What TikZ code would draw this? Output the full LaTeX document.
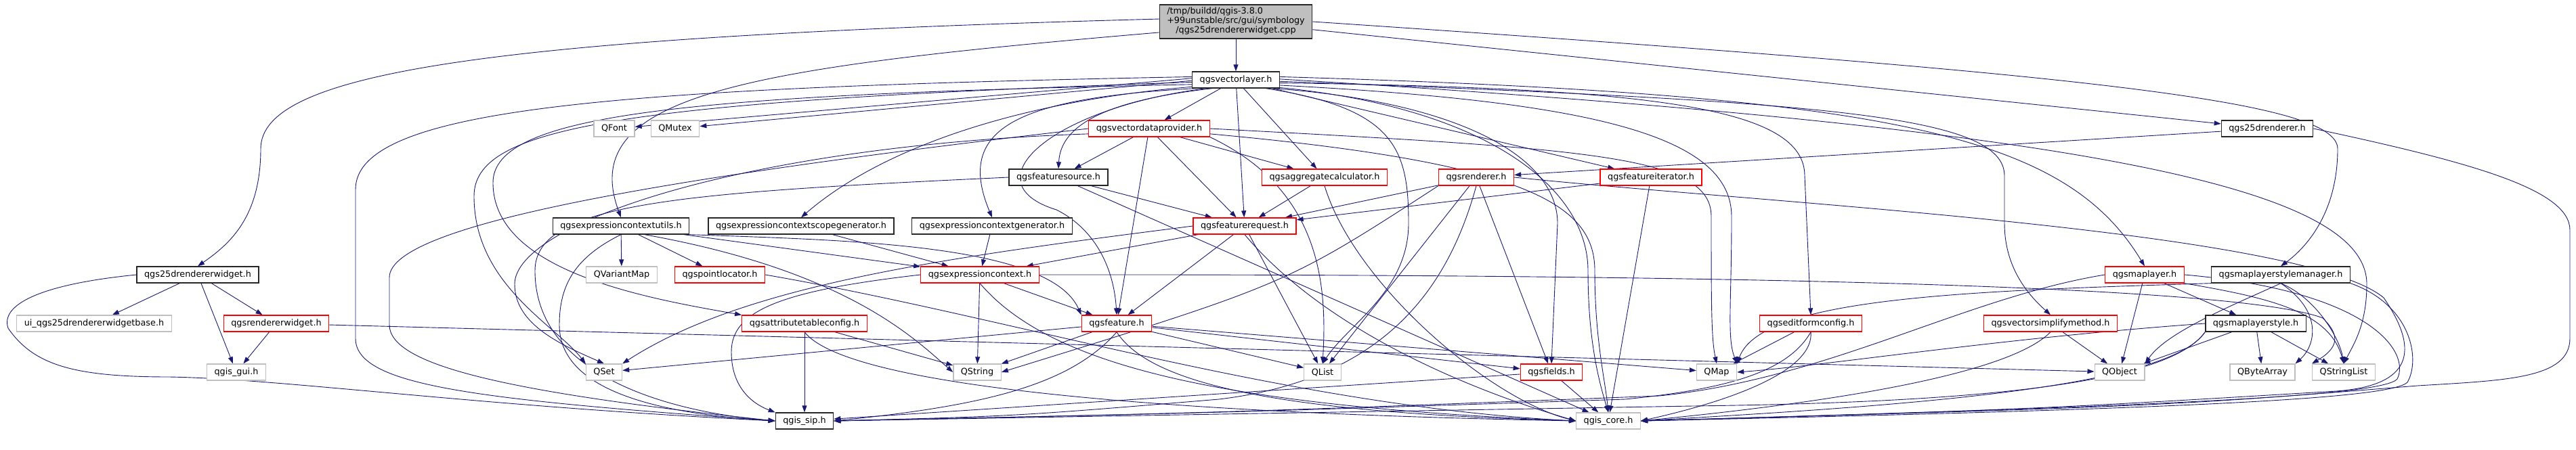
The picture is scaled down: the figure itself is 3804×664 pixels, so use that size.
\documentclass[tikz,border=0pt]{standalone}
\usepackage{fontspec}
\setmainfont{DejaVu Sans}
\usepackage{tikz}
\usetikzlibrary{arrows.meta, backgrounds}
\definecolor{edgeblue}{RGB}{25,25,112}
\definecolor{truncred}{RGB}{255,0,0}
\definecolor{extgray}{RGB}{191,191,191}
\newcommand{\hdrfont}{\fontsize{12.8}{14}\selectfont}

\begin{document}
\begin{tikzpicture}[x=1pt, y=-1pt,
    hdr/.style={rectangle, draw=black!85, fill=white, line width=1.3pt,
                minimum height=24pt, inner xsep=11pt, inner ysep=0pt, font=\hdrfont},
    trunc/.style={hdr, draw=truncred},
    ext/.style={hdr, draw=extgray},
    srcfile/.style={hdr, fill=extgray, inner ysep=4pt},
    dep/.style={-{Triangle[length=10pt,width=7pt]}, draw=edgeblue, line width=0.9pt}]

\useasboundingbox (0,0) rectangle (3804,664);

%% Source file
\node[srcfile] (root) at (1825,32)
    {\begin{tabular}{@{}l@{}}/tmp/buildd/qgis-3.8.0\\+99unstable/src/gui/symbology\\
     \multicolumn{1}{@{}c@{}}{/qgs25drendererwidget.cpp}\end{tabular}};

%% Rank 1-2
\node[hdr]   (vl)     at (1825,118) {qgsvectorlayer.h};
\node[ext]   (qfont)  at (907,190)  {QFont};
\node[ext]   (qmutex) at (997,190)  {QMutex};
\node[trunc] (vdp)    at (1697,190) {qgsvectordataprovider.h};
\node[hdr]   (r25)    at (3348,190) {qgs25drenderer.h};

%% Rank 3
\node[hdr]   (fsrc) at (1563,262) {qgsfeaturesource.h};
\node[trunc] (aggc) at (1956,262) {qgsaggregatecalculator.h};
\node[trunc] (rend) at (2180,262) {qgsrenderer.h};
\node[trunc] (fit)  at (2438,262) {qgsfeatureiterator.h};

%% Rank 4
\node[hdr]   (ecu)  at (917,334)  {qgsexpressioncontextutils.h};
\node[hdr]   (ecsg) at (1183,334) {qgsexpressioncontextscopegenerator.h};
\node[hdr]   (ecg)  at (1465,334) {qgsexpressioncontextgenerator.h};
\node[trunc] (freq) at (1838,334) {qgsfeaturerequest.h};

%% Rank 5
\node[hdr]   (rw25) at (292,406)  {qgs25drendererwidget.h};
\node[ext]   (qvm)  at (918,406)  {QVariantMap};
\node[trunc] (ploc) at (1063,406) {qgspointlocator.h};
\node[trunc] (ectx) at (1447,406) {qgsexpressioncontext.h};
\node[trunc] (mlay) at (3167,406) {qgsmaplayer.h};
\node[hdr]   (mlsm) at (3368,406) {qgsmaplayerstylemanager.h};

%% Rank 6
\node[ext]   (uibase) at (139,478)  {ui\_qgs25drendererwidgetbase.h};
\node[trunc] (rendw)  at (408,478)  {qgsrendererwidget.h};
\node[trunc] (atc)    at (1188,478) {qgsattributetableconfig.h};
\node[trunc] (feat)   at (1649,478) {qgsfeature.h};
\node[trunc] (efc)    at (2674,478) {qgseditformconfig.h};
\node[trunc] (vsm)    at (3028,478) {qgsvectorsimplifymethod.h};
\node[hdr]   (mls)    at (3331,478) {qgsmaplayerstyle.h};

%% Rank 7
\node[ext]   (gui)     at (349,550)  {qgis\_gui.h};
\node[ext]   (qset)    at (892,550)  {QSet};
\node[ext]   (qstring) at (1443,550) {QString};
\node[ext]   (qlist)   at (1953,550) {QList};
\node[trunc] (fields)  at (2291,550) {qgsfields.h};
\node[ext]   (qmap)    at (2535,550) {QMap};
\node[ext]   (qobject) at (3130,550) {QObject};
\node[ext]   (qba)     at (3341,550) {QByteArray};
\node[ext]   (qsl)     at (3461,550) {QStringList};

%% Rank 8
\node[hdr] (sip)  at (1188,622) {qgis\_sip.h};
\node[ext] (core) at (2375,622) {qgis\_core.h};

\begin{pgfonlayer}{background}
%% Short includes
\foreach \s/\t in {root/vl, root/r25, rw25/uibase, rw25/gui, rw25/rendw, rendw/gui,
    rendw/qobject, vl/vdp, vl/aggc, vl/fit, vl/freq, vdp/fsrc, vdp/feat, vdp/freq,
    vdp/aggc, fsrc/freq, fsrc/core, aggc/freq, rend/freq, rend/qlist, rend/fields,
    fit/freq, fit/core, r25/rend, ecu/qvm, ecu/ploc, ecu/ectx, ecsg/ectx, ecg/ectx,
    freq/ectx, freq/feat, freq/qlist, ectx/qstring, ectx/feat, atc/sip, atc/qstring,
    feat/qset, feat/qstring, feat/qlist, feat/fields, feat/qmap, fields/sip,
    fields/core, efc/qmap, vsm/qobject, mlay/qobject, mlay/mls, mls/qobject,
    mls/qba, mls/qsl}
    \draw[dep] (\s) -- (\t);

%% Source file, long routes
\draw[dep] (root.178) .. controls (700,55) and (385,110) .. (385,220)
    .. controls (385,320) and (340,360) .. (rw25.north);
\draw[dep] (root.188) .. controls (1100,100) and (850,140) .. (ecu.north);
\draw[dep] (root.east) .. controls (3100,110) and (3452,150) .. (3452,220)
    .. controls (3452,320) and (3400,370) .. (mlsm.north);

%% qgs25drendererwidget.h round the left
\draw[dep] (rw25.west) .. controls (60,420) and (0,450) .. (12,485)
    .. controls (50,540) and (110,557) .. (250,557)
    .. controls (420,560) and (700,600) .. (sip.west);

%% qgsvectorlayer.h, left side
\draw[dep] (vl.178) -- (qfont);
\draw[dep] (vl.181) -- (qmutex);
\draw[dep] (vl.176) .. controls (900,130) and (525,160) .. (525,280) -- (525,500)
    .. controls (525,570) and (700,590) .. (sip.west);
\draw[dep] (vl.183) .. controls (900,150) and (700,190) .. (700,290)
    .. controls (700,420) and (820,480) .. (qset.north west);
\draw[dep] (vl.186) .. controls (1000,140) and (728,170) .. (728,270)
    .. controls (728,400) and (950,440) .. (atc.north west);
\draw[dep] (vl.189) .. controls (1500,150) and (1300,220) .. (ecsg.north);
\draw[dep] (vl.192) .. controls (1500,145) and (1410,190) .. (ecg.north);
\draw[dep] (vl.196) .. controls (1550,160) and (1430,270) .. (1560,310)
    .. controls (1620,340) and (1645,400) .. (feat.north);
\draw[dep] (vl.200) .. controls (1620,150) and (1566,190) .. (fsrc.north);

%% qgsvectorlayer.h, right side
\draw[dep] (vl.-16) .. controls (2060,160) and (2080,220) .. (2080,330)
    .. controls (2080,430) and (1990,480) .. (qlist.north);
\draw[dep] (vl.-13) .. controls (2150,150) and (2300,230) .. (2300,330) -- (fields.north);
\draw[dep] (vl.-10) .. controls (2200,160) and (2345,280) .. (2345,400)
    .. controls (2345,500) and (2360,560) .. (core.north);
\draw[dep] (vl.-7) .. controls (2350,150) and (2557,200) .. (2557,320)
    .. controls (2557,450) and (2550,500) .. (qmap.north east);
\draw[dep] (vl.-4) .. controls (2450,130) and (2665,160) .. (2665,260) -- (efc.north);
\draw[dep] (vl.-2) .. controls (2700,150) and (2960,170) .. (2960,260) -- (2960,330)
    .. controls (2960,400) and (3000,440) .. (vsm.north);
\draw[dep] (vl.4) .. controls (2800,140) and (3050,200) .. (mlay.north);
\draw[dep] (vl.1) .. controls (3100,190) and (3495,280) .. (3495,420)
    .. controls (3495,480) and (3475,510) .. (qsl.north);

%% qgsvectordataprovider.h
\draw[dep] (vdp.west) .. controls (1000,260) and (575,330) .. (575,410) -- (575,480)
    .. controls (575,540) and (750,580) .. (sip.west);
\draw[dep] (vdp.185) .. controls (1100,215) and (760,330) .. (760,420)
    .. controls (760,480) and (830,510) .. (qset.north);
\draw[dep] (vdp.south east) .. controls (1950,280) and (1960,420) .. (qlist.north);
\draw[dep] (vdp.east) .. controls (2350,220) and (2527,230) .. (2527,320)
    .. controls (2527,450) and (2527,500) .. (qmap.north);
\draw[dep] (vdp.-5) .. controls (2250,240) and (2355,300) .. (2355,400)
    .. controls (2355,500) and (2370,560) .. (core.north);

%% qgsfeaturesource.h, qgsaggregatecalculator.h, qgsrenderer.h
\draw[dep] (fsrc.west) .. controls (1000,285) and (790,300) .. (790,400)
    .. controls (790,560) and (1000,610) .. (sip.west);
\draw[dep] (aggc.south) .. controls (2000,420) and (2200,590) .. (core.west);
\draw[dep] (rend.south) .. controls (2140,420) and (2050,560) .. (1800,590)
    .. controls (1500,615) .. (sip.east);
\draw[dep] (rend.south west) .. controls (1900,420) .. (qstring.east);
\draw[dep] (rend.east) .. controls (2600,300) and (3400,340) .. (3520,440)
    .. controls (3575,520) and (3560,570) .. (3450,578)
    .. controls (3000,605) .. (core.east);
\draw[dep] (r25.east) .. controls (3650,240) and (3795,280) .. (3795,340) -- (3795,500)
    .. controls (3795,560) and (3700,562) .. (3570,570)
    .. controls (3200,600) .. (core.east);

%% qgsexpressioncontextutils.h
\draw[dep] (ecu.south) .. controls (850,380) and (826,420) .. (826,480)
    .. controls (826,570) and (950,610) .. (sip.west);
\draw[dep] (ecu.south east) .. controls (1250,355) and (1550,360) .. (feat.north west);
\draw[dep] (ecu.-20) .. controls (1250,400) and (1350,500) .. (qstring.west);
\draw[dep] (ploc.east) .. controls (1500,470) and (1900,600) .. (core.west);

%% qgsfeaturerequest.h, qgsexpressioncontext.h
\draw[dep] (freq.west) .. controls (1400,380) and (1100,420) .. (qset.north east);
\draw[dep] (freq.south) .. controls (1950,480) and (2150,570) .. (core.west);
\draw[dep] (ectx.west) .. controls (1150,430) and (1080,460) .. (1080,520)
    .. controls (1080,580) and (1120,600) .. (sip.north west);
\draw[dep] (ectx.south) .. controls (1550,540) and (1800,600) .. (core.west);
\draw[dep] (ectx.east) .. controls (2500,405) and (3300,420) .. (3430,470)
    .. controls (3450,490) and (3460,510) .. (qsl.north west);

%% qgsattributetableconfig.h, qgsfeature.h
\draw[dep] (atc.south) .. controls (1250,570) and (1700,610) .. (core.west);
\draw[dep] (feat.south) .. controls (1700,570) and (1900,610) .. (core.west);
\draw[dep] (feat.south) .. controls (1580,570) and (1450,600) .. (sip.east);

%% qgseditformconfig.h, qgsvectorsimplifymethod.h
\draw[dep] (efc.south) .. controls (2640,550) and (2550,575) .. (2400,590)
    .. controls (1800,610) .. (sip.east);
\draw[dep] (efc.south) .. controls (2680,560) and (2500,605) .. (core.east);
\draw[dep] (vsm.south) .. controls (2960,560) and (2650,600) .. (core.east);

%% qgsmaplayer.h
\draw[dep] (mlay.west) .. controls (2900,440) and (2700,560) .. (2450,585)
    .. controls (1800,610) .. (sip.east);
\draw[dep] (mlay.south east) .. controls (3350,440) and (3440,460) .. (qsl.north);
\draw[dep] (mlay.east) .. controls (3500,430) and (3560,520) .. (3540,560)
    .. controls (3520,585) and (3200,600) .. (core.east);

%% qgsmaplayerstylemanager.h
\draw[dep] (mlsm.south west) .. controls (2900,430) and (2600,440) .. (qmap.north east);
\draw[dep] (mlsm.south) .. controls (3300,450) and (3200,490) .. (qobject.north east);
\draw[dep] (mlsm.south) .. controls (3430,460) and (3420,510) .. (qba.north east);
\draw[dep] (mlsm.south) .. controls (3420,440) and (3455,500) .. (qsl.north);
\draw[dep] (mlsm.south east) .. controls (3560,450) and (3575,530) .. (3555,565)
    .. controls (3530,590) and (3200,605) .. (core.east);

%% qgsmaplayerstyle.h
\draw[dep] (mls.west) .. controls (2950,500) and (2700,540) .. (qmap.east);
\draw[dep] (mls.south west) .. controls (3200,570) and (2900,595) .. (2500,600)
    .. controls (1800,612) .. (sip.east);
\draw[dep] (mls.south west) .. controls (3200,575) and (2800,600) .. (core.east);
\end{pgfonlayer}

\end{tikzpicture}
\end{document}
